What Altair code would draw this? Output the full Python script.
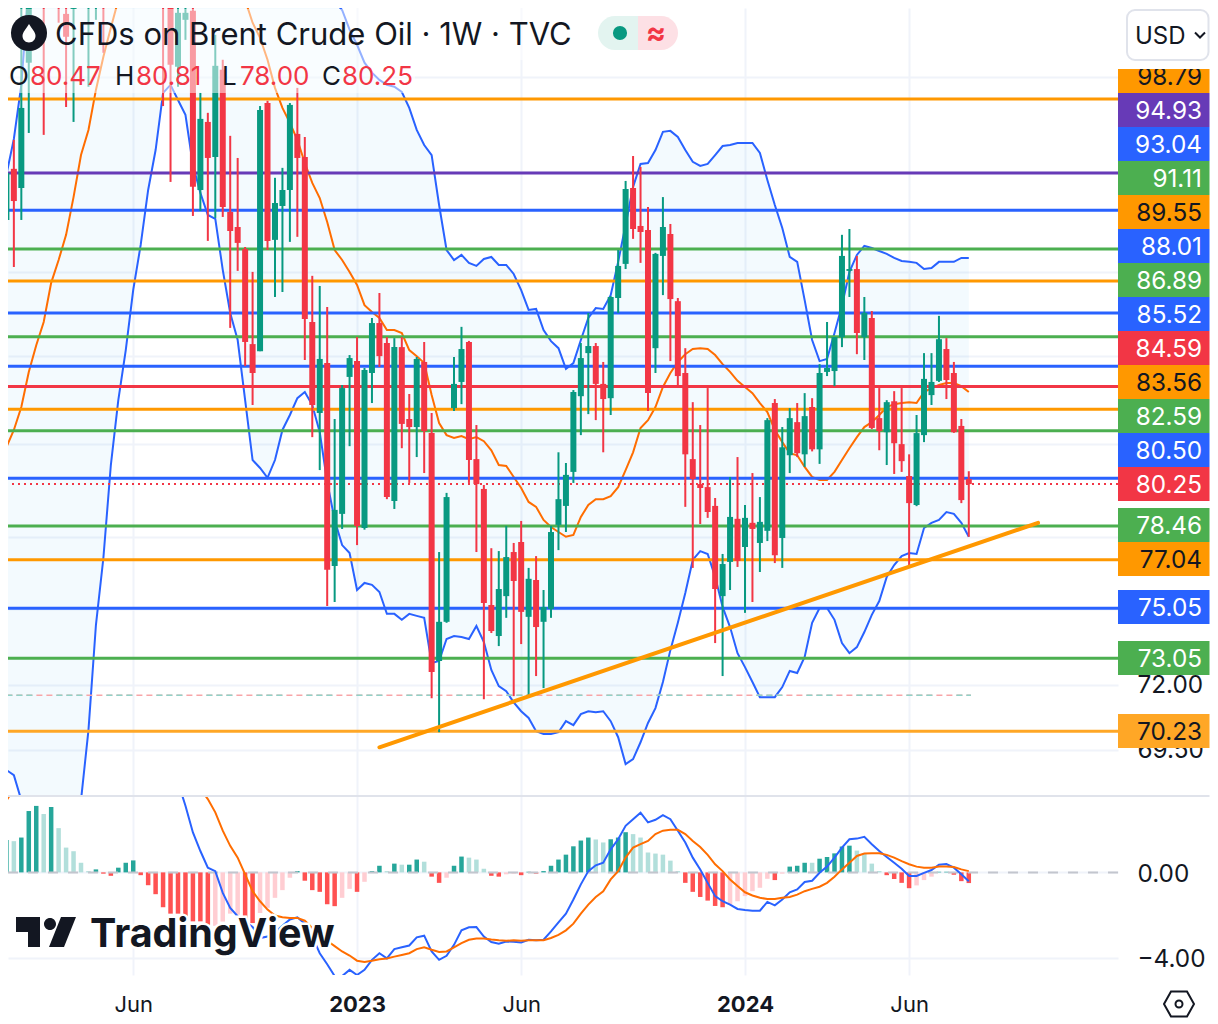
import altair as alt
import pandas as pd

# ---------- values (weeks counted from 2 Jan 2023) ----------
candle_weeks = [-47,-46,-45,-44,-42,-40,-39,-38,-36,-35,-34,-26,-25,-24,-23,-22,-21,-20,-19,-18,-17,-16,-15,-14,-13,-12,-11,-10,-9,-8,-7,-6,-5,-4,-3,-2,-1] + list(range(0, 83))
opens = [92.55,95.14,94.16,100.75,108,110,103.44,103.72,106,106,108,108,104.16,100.53,103.11,103.61,94.06,97.58,95.75,100.37,92.95,92.20,91.11,86.55,86.22,98.58,91.56,93.25,94.06,96.95,95.75,87.59,83.39,85.67,76.78,78.97,85.03,
 85.76,78.37,85.21,87.54,86.60,79.52,86.41,83.12,82.76,85.72,82.49,72.94,74.50,83.61,84.80,86.65,81.34,80.04,75.18,73.93,75.54,77.36,77.78,74.70,76.20,74.50,75.02,78.50,79.31,80.78,84.15,86.13,86.46,84.71,84.06,88.73,90.38,94.16,92.25,92.05,86.36,90.77,91.85,88.58,85.21,81.34,80.25,80.12,79.31,75.54,76.95,78.76,77.57,78.59,77.74,78.25,83.84,77.95,81.51,82.98,81.55,83.66,81.77,85.26,85.30,86.88,90.04,90.13,86.88,87.78,83.16,82.53,83.92,82.00,80.60,79.35,82.40,84.20,84.85,86.32,85.21,82.81,80.47]
highs = [95.50,96.64,104.3,108,110,112,105,110,112,110,112,112,108,105,105,105,99.12,98.06,102.28,100.91,96.85,95.70,91.21,89.99,98.42,98.70,94.68,95.19,98.58,99.39,96.79,89.80,89.31,88.30,83.12,84.66,86.04,
 86.88,85.44,87.78,88.97,86.88,86.83,86.88,84.25,85.95,86.65,83.39,77.36,79.87,85.95,87.36,86.70,82.85,80.21,77.52,77.40,78.46,77.74,78.67,76.70,77.19,75.79,78.46,81.64,81.17,84.43,86.60,88.02,86.60,85.72,88.82,91.06,94.52,95.80,95.24,93.20,90.92,93.70,92.35,88.73,86.36,83.88,82.85,84.52,79.65,77.28,80.56,81.43,79.35,80.73,79.69,83.16,84.02,82.76,83.61,83.84,84.29,84.06,85.62,87.59,86.88,91.81,92.10,90.77,88.78,88.11,84.52,83.97,84.38,84.52,81.55,83.30,86.13,86.13,87.88,86.83,85.72,83.12,80.81]
lows = [89.94,90.23,92.55,97.00,96.90,102.95,98.37,97.58,99.45,103.11,101.29,98.42,94.47,99.45,102.00,92.75,93.00,91.51,92.65,92.70,87.31,90.04,85.53,83.75,86.22,91.06,88.78,89.02,91.46,91.71,85.81,82.31,80.86,75.14,75.30,78.33,81.91,
 77.65,78.30,83.84,85.49,79.60,79.18,81.82,80.30,81.43,80.73,71.49,70.19,74.46,83.48,83.79,80.30,77.36,71.45,74.05,73.53,74.66,71.57,73.61,71.61,72.35,71.88,74.66,77.44,78.20,80.30,82.40,83.34,83.07,81.64,83.30,88.02,90.13,91.61,90.43,83.48,85.21,88.87,85.76,84.57,79.27,76.70,78.54,78.80,73.65,72.35,75.79,76.74,74.86,75.30,76.53,77.82,76.90,76.70,80.73,81.43,81.00,81.68,81.13,85.07,84.61,86.41,88.78,86.08,85.81,82.67,81.73,81.08,80.69,80.78,76.82,79.30,82.09,83.75,84.80,84.02,82.50,79.43,78.00]
closes = [94.93,93.50,98.32,106,105,105,102.17,106,108,108,106,106,100.64,103.50,103.50,94.22,97.74,95.70,100.58,93.20,92.00,91.41,86.65,85.21,98.21,91.51,93.40,94.06,98.48,95.70,87.73,83.75,85.86,76.62,79.14,84.52,85.90,
 78.46,85.35,87.54,85.99,79.69,86.41,82.90,82.76,85.86,82.58,72.51,74.50,79.69,84.71,86.32,81.30,80.25,75.26,74.13,75.83,77.15,76.16,74.90,76.25,74.29,75.10,78.20,79.60,80.65,84.34,85.90,86.46,84.71,84.02,88.78,90.28,94.11,92.10,91.95,84.29,90.87,92.20,88.68,85.07,81.55,80.47,80.08,79.05,75.83,76.86,78.84,76.99,78.80,78.33,78.63,83.07,77.23,81.86,83.16,81.60,83.25,81.77,85.21,85.44,86.88,90.77,90.13,87.07,88.02,82.72,82.58,83.88,82.04,81.25,79.43,82.49,84.94,84.80,86.78,84.89,82.53,79.56,80.25]

series_weeks = list(range(-47, 83))
band_upper = [94.83,96.69,99.55,105.07,110,114,118,122,126,128,130,132,133,134,134,135,135,136,136,136,135,135,134,134,133,133,132,131,130,129,127,126,124,122,120,118,116,114,112,111,110,109,107,
 105.35,104.11,103.66,102.56,101.73,100.75,100.21,99.82,99.55,99.45,99.17,98.32,97.16,96.37,95.85,93.30,91.06,90.57,90.82,90.43,90.28,90.62,90.72,90.33,90.33,89.89,89.11,88.16,88.21,87.21,86.69,86.36,85.40,85.67,86.74,87.78,88.25,88.21,88.87,90.48,92.31,94.22,95.39,95.44,96.11,97.06,97.11,96.79,96.11,95.50,95.29,95.39,95.85,96.32,96.37,96.48,96.48,96.48,95.96,94.57,93.30,92.15,90.72,90.48,88.63,86.74,85.76,85.86,87.07,88.39,89.99,90.82,91.26,91.16,91.01,90.87,90.67,90.52,90.48,90.43,90.13,90.18,90.48,90.48,90.48,90.67,90.67]
band_lower = [68.77,68.58,67.66,66.57,65.85,64.8,64.1,63.4,63.0,64.8,67.66,70.27,74.37,77.11,81.08,83.97,86.27,89.12,91.31,94.06,96.11,99.12,99.55,98.74,97.95,95.34,93.91,92.80,92.60,90.09,88.02,86.74,83.97,81.30,80.95,80.52,81.30,82.63,83.30,84.06,84.34,83.75,82.53,80.34,78.71,77.65,77.32,
 75.79,76.08,76.00,75.71,74.82,74.82,74.58,74.82,74.74,74.66,72.86,72.94,73.81,73.93,73.89,73.81,74.33,73.69,72.59,71.96,71.76,71.33,70.99,70.73,70.23,70.12,70.12,70.19,70.61,70.46,70.88,70.99,70.95,70.99,70.61,70.00,68.99,69.18,69.81,70.54,71.11,72.12,73.37,74.46,75.67,77.03,77.40,77.28,76.33,75.10,74.29,73.25,72.70,72.12,71.53,71.53,71.53,71.92,72.55,72.47,73.10,74.46,75.06,75.06,74.58,73.65,73.25,73.49,74.09,74.78,75.34,76.33,76.82,77.19,77.32,77.28,78.37,78.59,78.71,79.05,78.97,78.59,78.00]
band_basis = [81.86,82.63,83.66,85.26,86.50,87.59,89.46,90.57,91.81,93.70,95.85,97.16,99.28,101.07,102.67,104.22,106,108,110,112,114,116,117,117,117,116,115,114,113,111,109,107,104.22,102.95,102.11,100.91,99.39,98.32,97.53,96.64,95.44,94.42,93.65,92.45,91.06,90.57,89.99,
 89.36,88.39,88.06,87.78,87.21,87.21,87.07,86.27,85.99,85.67,84.20,82.94,82.40,82.27,82.36,82.22,82.31,82.13,81.73,81.08,81.04,80.56,80.08,79.48,79.27,78.71,78.41,78.20,78.00,78.08,78.84,79.35,79.60,79.60,79.73,80.12,80.86,81.64,82.72,83.07,83.66,84.57,85.21,85.72,86.08,86.32,86.36,86.32,86.04,85.62,85.26,84.85,84.57,84.29,83.84,83.43,82.63,82.09,81.60,81.51,81.00,80.56,80.43,80.43,80.78,81.30,81.82,82.31,82.76,82.98,83.30,83.66,83.79,83.84,83.88,83.84,84.34,84.52,84.66,84.75,84.75,84.61,84.34]

macd_hist = [1.51,1.46,1.63,2.87,3.11,2.73,3.06,2.07,1.16,.99,.45,.06,.14,-.06,-.16,.22,.45,.56,-.13,-.6,-1.02,-1.63,-1.93,-1.93,-2.05,-2.29,-2.29,-2.45,-2.5,-2.3,-1.93,-1.98,-2.37,-2.37,-1.9,-1.66,-1.19,-.83,-.25,.06,-.39,-.83,-.91,-1.49,-1.58,-1.19,-.77,
 -.91,-.44,.06,.31,.06,.41,.36,.36,.6,.5,-.2,-.49,-.25,.31,.74,.69,.6,.17,-.16,-.2,-.09,-.06,-.13,.03,-.06,.06,.31,.6,.83,1.22,1.49,1.63,1.54,1.4,1.55,1.63,1.88,1.79,1.63,.93,.88,.83,.55,.06,-.49,-.91,-1.15,-1.32,-1.57,-1.63,-1.51,-1.35,-1.11,-.88,-.72,-.3,-.36,-.06,.27,.31,.45,.45,.64,.72,.89,1.21,1.25,1.02,.88,.41,.06,-.13,-.31,-.49,-.74,-.61,-.36,-.2,.03,.03,-.11,-.41,-.5]
macd_faded = [-46,-42,-40,-39,-38,-37,-36,-19,-18,-17,-16,-13,-12,-11,-10,-9,-2,-1,1,4,6,9,12,15,16,17,20,21,32,33,37,38,39,40,41,42,43,50,51,52,53,54,55,57,61,67,68,69,70,75,76,77]
macd_line = [6.0,6.1,6.2,6.3,6.4,6.4,6.3,6.2,6.1,6.0,5.9,5.8,5.7,5.6,5.5,5.4,5.3,5.2,5.1,5.0,4.8,4.6,4.4,4.22,3.12,1.87,1.0,.22,.06,-.96,-1.66,-2.05,-2.3,-2.55,-3.07,-3.0,-2.8,-2.5,-2.2,-2.1,-2.4,-3.0,-3.78,-4.3,-4.85,-4.85,-4.56,
 -4.8,-4.56,-4.09,-3.78,-4.02,-3.59,-3.5,-3.42,-3.04,-2.96,-3.7,-4.09,-3.9,-3.39,-2.71,-2.57,-2.56,-3.0,-3.26,-3.34,-3.23,-3.25,-3.28,-3.15,-3.18,-3.15,-2.76,-2.34,-1.93,-1.27,-.56,.06,.33,.45,1.08,1.55,2.18,2.49,2.79,2.34,2.46,2.68,2.49,1.95,1.4,.69,.14,-.49,-1.11,-1.35,-1.51,-1.71,-1.76,-1.8,-1.79,-1.38,-1.54,-1.27,-.93,-.8,-.45,-.39,-.02,.27,.69,1.16,1.55,1.58,1.66,1.32,1.0,.72,.45,.17,-.17,-.17,-.02,.11,.36,.39,.22,-.09,-.41]
macd_signal = [3.36,3.9,4.3,4.6,4.9,5.2,5.4,5.6,5.8,5.9,6.0,6.0,6.0,5.9,5.8,5.7,5.6,5.5,5.4,5.2,5.0,4.8,4.6,4.4,4.2,4.0,3.9,3.43,2.81,1.95,1.24,.69,-.09,-.88,-1.35,-1.74,-2.02,-2.1,-2.13,-2.13,-2.26,-2.6,-2.9,-3.2,-3.45,-3.7,-3.89,
 -4.13,-4.19,-4.13,-4.06,-4.03,-3.94,-3.86,-3.78,-3.59,-3.5,-3.62,-3.72,-3.7,-3.51,-3.31,-3.15,-3.09,-3.09,-3.14,-3.18,-3.2,-3.18,-3.2,-3.18,-3.18,-3.17,-3.07,-2.92,-2.71,-2.4,-1.93,-1.51,-1.15,-.88,-.33,.06,.69,1.16,1.32,1.47,1.79,1.95,1.99,1.99,1.79,1.47,1.19,.82,.38,.06,-.33,-.64,-.93,-1.08,-1.19,-1.24,-1.24,-1.19,-1.15,-1.04,-.88,-.77,-.67,-.49,-.2,.14,.45,.77,.88,.89,.89,.82,.69,.53,.38,.27,.22,.22,.27,.27,.25,.14,.06]

level_prices = [98.79,94.93,93.04,91.11,89.55,88.01,86.89,85.52,84.59,83.56,82.59,80.50,78.46,77.04,75.05,73.05,70.23]
level_colors = ["#ff9800","#673ab7","#2962ff","#4caf50","#ff9800","#2962ff","#4caf50","#2962ff","#f23645","#ff9800","#4caf50","#2962ff","#4caf50","#ff9800","#2962ff","#4caf50","#ffa726"]

tag_values = [98.79,94.93,93.04,91.11,89.55,88.01,86.89,85.52,84.59,83.56,82.59,80.50,80.25,78.46,77.04,75.05,73.05,70.23]
tag_fills = ["#ff9800","#673ab7","#2962ff","#4caf50","#ff9800","#2962ff","#4caf50","#2962ff","#f23645","#ff9800","#4caf50","#2962ff","#f23645","#4caf50","#ff9800","#2962ff","#4caf50","#ffa726"]
tag_text = ["#131722","#ffffff","#ffffff","#ffffff","#131722","#ffffff","#ffffff","#ffffff","#ffffff","#131722","#ffffff","#ffffff","#ffffff","#ffffff","#131722","#ffffff","#ffffff","#131722"]
# stacked label centres (layout, in page rows)
tag_rows = [76,110,144,178,212,246,280,314,348,382,416,450,484,525,559,607,658,731]

price_ticks = [100,95,90,86,82,78,75,72,69.5]
trend_dates = ["2023-01-23","2024-10-02"]
trend_prices = [69.62,78.59]
last_close = 80.25
volume_price = 71.6

UP, DOWN = "#089981", "#f23645"
HIST = {("u","D"):"#26a69a",("u","L"):"#b2dfdb",("d","D"):"#ff5252",("d","L"):"#ffcdd2"}
INK = "#131722"
FONT = "Inter"
GRID = "#f0f3fa"
RIGHT = 1209.5  # last page column the chart can use

def wk(w):
    return (pd.Timestamp("2023-01-02") + pd.Timedelta(weeks=w)).strftime("%Y-%m-%d")

def px(v):  # page pixel to plot pixel (page margin is 8)
    return v - 8

candles = pd.DataFrame({"date":[wk(w) for w in candle_weeks],"o":opens,"h":highs,"l":lows,"c":closes})
candles["col"] = [UP if c >= o else DOWN for o, c in zip(opens, closes)]
bands = pd.DataFrame({"date":[wk(w) for w in series_weeks],"upper":band_upper,"lower":band_lower,"basis":band_basis})
macd = pd.DataFrame({"date":[wk(w) for w in series_weeks],"hist":macd_hist,"line":macd_line,"signal":macd_signal,"zero":0.0})
macd["col"] = [HIST[("u" if h >= 0 else "d", "L" if w in macd_faded else "D")] for h, w in zip(macd_hist, series_weeks)]
levels = pd.DataFrame({"price":level_prices,"col":level_colors})
tags = pd.DataFrame({"label":[f"{v:.2f}" for v in tag_values],"fill":tag_fills,"ink":tag_text,
                     "row":[px(r) for r in tag_rows],"top":[max(px(r)-17, px(69)) for r in tag_rows],"bot":[px(r)+17 for r in tag_rows]})
trend = pd.DataFrame({"date":trend_dates,"price":trend_prices})

x_scale = alt.Scale(domain=["2022-02-08T12:00:00","2024-12-16T00:00:00"], nice=False, padding=0)
y_scale = alt.Scale(type="log", domain=[67.85,103.77], nice=False, zero=False)
m_scale = alt.Scale(domain=[-4.8,3.62], nice=False, zero=False)
tick_dates = [alt.DateTime(year=2022,month=6,date=6),alt.DateTime(year=2023,month=1,date=2),alt.DateTime(year=2023,month=6,date=5),
              alt.DateTime(year=2024,month=1,date=1),alt.DateTime(year=2024,month=6,date=3)]

W, H1, H2 = 1110, 787, 180

grid_x = alt.Axis(values=tick_dates, grid=True, gridColor=GRID, gridWidth=2, labels=False, ticks=False, domain=False)
price_axis = alt.Axis(orient="right", values=price_ticks, grid=True, gridColor=GRID, gridWidth=2,
                      labelExpr="datum.value==72 || datum.value==69.5 ? format(datum.value,'.2f') : ''",
                      labelFont=FONT, labelFontSize=24.3, labelColor=INK, labelPadding=19, ticks=False, domain=False, labelOverlap=False, labelBound=False)
time_axis = alt.Axis(values=tick_dates, grid=True, gridColor=GRID, gridWidth=2, ticks=False, domain=False, labelFont=FONT, labelFontSize=22,
                     labelColor=INK, labelPadding=19, labelOverlap=False,
                     labelExpr="month(datum.value)==0 ? timeFormat(datum.value,'%Y') : timeFormat(datum.value,'%b')",
                     labelFontWeight={"condition":{"test":"month(datum.value)==0","value":700},"value":400})
macd_axis = alt.Axis(orient="right", values=[0,-4], grid=True, gridColor=GRID, gridWidth=2, ticks=False, domain=False, labelFont=FONT, labelFontSize=24.3,
                     labelColor=INK, labelPadding=19, labelOffset=2, labelExpr="datum.value==0 ? '0.00' : '−4.00'", labelBound=False, labelOverlap=False)

def X(axis=grid_x):
    return alt.X("date:T", scale=x_scale, title=None, axis=axis)
def Yp(f):
    return alt.Y(f"{f}:Q", scale=y_scale, title=None, axis=price_axis)
def Ym(f):
    return alt.Y(f"{f}:Q", scale=m_scale, title=None, axis=macd_axis)
def Xm():
    return X(time_axis)

# ---------- price pane ----------
band_fill = alt.Chart(bands).mark_area(color="#1e9bf5", opacity=0.055, clip=True).encode(x=X(), y=Yp("lower"), y2="upper:Q")
band_up = alt.Chart(bands).mark_line(color="#2962ff", strokeWidth=2, clip=True).encode(x=X(), y=Yp("upper"))
band_lo = alt.Chart(bands).mark_line(color="#2962ff", strokeWidth=2, clip=True).encode(x=X(), y=Yp("lower"))
band_mid = alt.Chart(bands).mark_line(color="#ff6d00", strokeWidth=2, clip=True).encode(x=X(), y=Yp("basis"))
level_rules = alt.Chart(levels).mark_rule(strokeWidth=3, clip=True).encode(y=Yp("price"), color=alt.Color("col:N", scale=None))
close_rule = alt.Chart(pd.DataFrame({"price":[last_close]})).mark_rule(color=DOWN, strokeWidth=2, strokeDash=[2,4], clip=True).encode(y=Yp("price"))
vol = pd.DataFrame({"date":[wk(-47),wk(82.4)],"price":[volume_price]*2})
vol_a = alt.Chart(vol).mark_line(color="#f7a5a8", strokeWidth=1.5, strokeDash=[6,4], clip=True).encode(x=X(), y=Yp("price"))
vol_b = alt.Chart(vol).mark_line(color="#8fd3c8", strokeWidth=1.5, strokeDash=[6,4,6,4,6,24], clip=True).encode(x=X(), y=Yp("price"))
wicks = alt.Chart(candles).mark_rule(strokeWidth=2, clip=True).encode(x=X(), y=Yp("l"), y2="h:Q", color=alt.Color("col:N", scale=None))
bodies = alt.Chart(candles).mark_bar(size=6, clip=True).encode(x=X(), y=Yp("o"), y2="c:Q", color=alt.Color("col:N", scale=None))
trend_line = alt.Chart(trend).mark_line(color="#ff9800", strokeWidth=4, strokeCap="round", clip=True).encode(x=X(), y=Yp("price"))

def box(x0, x1, y0, y1, **kw):
    return alt.Chart(pd.DataFrame({"k":[0]})).mark_rect(**kw).encode(
        x=alt.value(px(x0)), x2=alt.value(px(x1)), y=alt.value(px(y0)), y2=alt.value(px(y1)))
def label(text, x, y, **kw):
    kw.setdefault("font", FONT); kw.setdefault("color", INK); kw.setdefault("align", "left"); kw.setdefault("baseline", "alphabetic")
    return alt.Chart(pd.DataFrame({"k":[0]})).mark_text(**kw).encode(x=alt.value(px(x)), y=alt.value(px(y)), text=alt.value(text))
def glyph(path, x, y, **kw):
    return alt.Chart(pd.DataFrame({"k":[0]})).mark_point(shape=path, size=4, opacity=1, **kw).encode(x=alt.value(px(x)), y=alt.value(px(y)))

veil = [box(8,572,9,60,color="#ffffff",opacity=0.5), box(8,415,60,93,color="#ffffff",opacity=0.5)]
tag_rect = alt.Chart(tags).mark_rect().encode(
    x=alt.value(px(1118)), x2=alt.value(px(RIGHT)),
    y=alt.Y("top:Q", scale=None, axis=None, title=None), y2="bot:Q", color=alt.Color("fill:N", scale=None))
tag_label = alt.Chart(tags).mark_text(font=FONT, fontSize=24.3, align="right", baseline="middle", dy=2).encode(
    x=alt.value(px(1202)), y=alt.Y("row:Q", scale=None, axis=None, title=None), text="label:N", color=alt.Color("ink:N", scale=None))

title_bits = [
    label("CFDs on Brent Crude Oil · 1W · TVC", 55, 45, fontSize=31),
    label("O", 9, 85, fontSize=26), label("80.47", 30, 85, fontSize=26, color=DOWN),
    label("H", 115, 85, fontSize=26), label("80.81", 136, 85, fontSize=26, color=DOWN),
    label("L", 222, 85, fontSize=26), label("78.00", 240, 85, fontSize=26, color=DOWN),
    label("C", 322, 85, fontSize=26), label("80.25", 342, 85, fontSize=26, color=DOWN),
]
DROP = "M0,-9 C3,-4 6.5,-1 6.5,3 A6.5,6.5 0 1 1 -6.5,3 C-6.5,-1 -3,-4 0,-9 Z"
icon = [alt.Chart(pd.DataFrame({"k":[0]})).mark_point(shape="circle", size=1300, filled=True, opacity=1, color=INK).encode(x=alt.value(px(29)), y=alt.value(px(33))),
        glyph(DROP, 29, 33, filled=True, color="#ffffff")]
pill = [box(598,638,16,50,color="#e3f4f0",cornerRadiusTopLeft=17,cornerRadiusBottomLeft=17),
        box(638,678,16,50,color="#fde0e5",cornerRadiusTopRight=17,cornerRadiusBottomRight=17),
        alt.Chart(pd.DataFrame({"k":[0]})).mark_point(shape="circle", size=200, filled=True, opacity=1, color=UP).encode(x=alt.value(px(620)), y=alt.value(px(33))),
        label("≈", 656, 34, fontSize=30, fontWeight=700, color=DOWN, align="center", baseline="middle")]
usd = [box(1118,RIGHT,60,69,color="#ffffff"),
       box(1127,RIGHT-1,10,60,fill="#ffffff",stroke="#e0e3eb",strokeWidth=2,cornerRadius=8),
       label("USD", 1135, 44, fontSize=24),
       glyph("M-5,-2.5 L0,2.5 L5,-2.5", 1200, 35, filled=False, color=INK, strokeWidth=2)]

main = alt.layer(band_fill, band_up, band_lo, band_mid, level_rules, close_rule, vol_a, vol_b, wicks, bodies, trend_line,
                 *veil, tag_rect, tag_label, *title_bits, *icon, *pill, *usd
                 ).properties(width=W, height=H1).resolve_scale(color="independent")

# ---------- MACD pane ----------
hist_bars = alt.Chart(macd).mark_bar(size=4.5, clip=True).encode(x=Xm(), y=Ym("hist"), y2="zero:Q", color=alt.Color("col:N", scale=None))
zero_rule = alt.Chart(pd.DataFrame({"v":[0.0]})).mark_rule(color="#c3c6ce", strokeWidth=2, strokeDash=[10,10], clip=True).encode(y=Ym("v"))
line_m = alt.Chart(macd).mark_line(color="#2962ff", strokeWidth=2, clip=True).encode(x=Xm(), y=Ym("line"))
line_s = alt.Chart(macd).mark_line(color="#ff6d00", strokeWidth=2, clip=True).encode(x=Xm(), y=Ym("signal"))
LOGO = "M0,0 H24 V30 H12 V15 H0 Z M28,7 a6,6 0 1 0 12,0 a6,6 0 1 0 -12,0 Z M60,0 H45 L33,30 H48 Z"
shift = 795 - 8
sep = alt.Chart(pd.DataFrame({"k":[0]})).mark_rect(color="#e0e3eb").encode(y=alt.value(0), y2=alt.value(2), x=alt.value(0), x2=alt.value(px(RIGHT)))
def label2(text, x, y, **kw):
    return label(text, x, y - shift, **kw)
def glyph2(path, x, y, **kw):
    return glyph(path, x, y - shift, **kw)
HEX = "M-15,0 L-8,-12.5 L8,-12.5 L15,0 L8,12.5 L-8,12.5 Z"
mark_logo2 = [label2("TradingView", 90, 947, fontSize=39.5, fontWeight=700, color="#ffffff", stroke="#ffffff", strokeWidth=5),
              label2("TradingView", 90, 947, fontSize=39.5, fontWeight=700),
              glyph2(LOGO, 16, 917, filled=True, color=INK)]
gear = [glyph2(HEX, 1179, 1004, filled=False, color=INK, strokeWidth=2),
        glyph2("M-3.5,0 a3.5,3.5 0 1 0 7,0 a3.5,3.5 0 1 0 -7,0 Z", 1179, 1004, filled=False, color=INK, strokeWidth=2)]

lower = alt.layer(hist_bars, zero_rule, line_m, line_s, sep, *mark_logo2, *gear).properties(width=W, height=H2).resolve_scale(color="independent")

chart = alt.vconcat(main, lower, spacing=0, padding=0, bounds="flush", background="#ffffff").configure_view(stroke=None)
chart.save("out.html", embed_options={"renderer": "svg", "actions": False})
